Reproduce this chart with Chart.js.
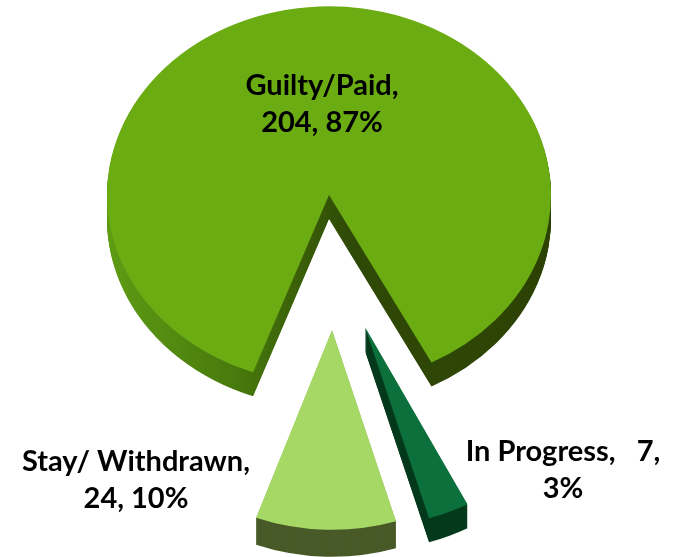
<!DOCTYPE html>
<html>
<head>
<meta charset="UTF-8">
<script src="https://cdn.jsdelivr.net/npm/chart.js"></script>
<style>
  body { margin: 0; background: #fff; }
</style>
</head>
<body>
<canvas id="pieChart" width="675" height="557"></canvas>
<script>
// data
const categories = ['Guilty/Paid', 'In Progress', 'Stay/ Withdrawn'];
const counts = [204, 7, 24];

// look
const topColors = ['#6aac12', '#0c703c', '#a6d866'];
const sideColors = ['#3f6a0a', '#053a1c', '#485a28'];
const tilt = [0.85, 0.9, 0.9];          // vertical squash per slice (fake perspective)
const explode = [[0, 0], [36, 132], [3, 135]];
const depth = [24, 24, 27];
const labelSpots = [[322, 86], [563, 452], [136, 462]];
const lineGap = 37;

const total = counts.reduce((a, b) => a + b, 0);
const pct = counts.map(v => Math.round(v / total * 100));
const labelLines = categories.map((c, i) =>
  i === 1 ? [c + ',   ' + counts[i] + ',', pct[i] + '%'] : [c + ',', counts[i] + ', ' + pct[i] + '%']);

const pie3d = {
  id: 'pie3d',
  beforeDatasetDraw(chart, args) {
    const ctx = chart.ctx;
    const arcs = args.meta.data;
    [0, 1, 2].forEach(i => {
      const a = arcs[i];
      const [dx, dy] = explode[i];
      for (let d = depth[i]; d >= 0; d--) {
        ctx.save();
        ctx.translate(a.x + dx, a.y + dy + d);
        ctx.scale(1, tilt[i]);
        ctx.beginPath();
        ctx.moveTo(0, 0);
        ctx.arc(0, 0, a.outerRadius, a.startAngle, a.endAngle);
        ctx.closePath();
        if (d === 0) {
          ctx.fillStyle = topColors[i];
        } else if (i === 0) {
          const g = ctx.createLinearGradient(-a.outerRadius, 0, a.outerRadius, 0);
          g.addColorStop(0, '#5e9c14');
          g.addColorStop(0.3, '#47780c');
          g.addColorStop(0.55, '#2f4906');
          g.addColorStop(1, '#2c4205');
          ctx.fillStyle = g;
        } else {
          ctx.fillStyle = sideColors[i];
        }
        ctx.fill();
        ctx.restore();
      }
    });
    return false;
  },
  afterDraw(chart) {
    const ctx = chart.ctx;
    ctx.save();
    ctx.fillStyle = '#000';
    ctx.font = 'bold 29px Lato';
    ctx.textAlign = 'center';
    ctx.textBaseline = 'middle';
    labelLines.forEach((lines, i) => {
      const [x, y] = labelSpots[i];
      lines.forEach((t, j) => ctx.fillText(t, x, y + j * lineGap));
    });
    ctx.restore();
  }
};

new Chart(document.getElementById('pieChart'), {
  type: 'pie',
  data: {
    labels: categories,
    datasets: [{
      data: counts,
      backgroundColor: topColors,
      borderWidth: 0,
      clip: false
    }]
  },
  options: {
    responsive: false,
    animation: false,
    events: [],
    rotation: 200,
    radius: 222,
    layout: { padding: { left: 0, right: 17, top: 0, bottom: 167 } },
    plugins: { legend: { display: false }, tooltip: { enabled: false } }
  },
  plugins: [pie3d]
});
</script>
</body>
</html>
